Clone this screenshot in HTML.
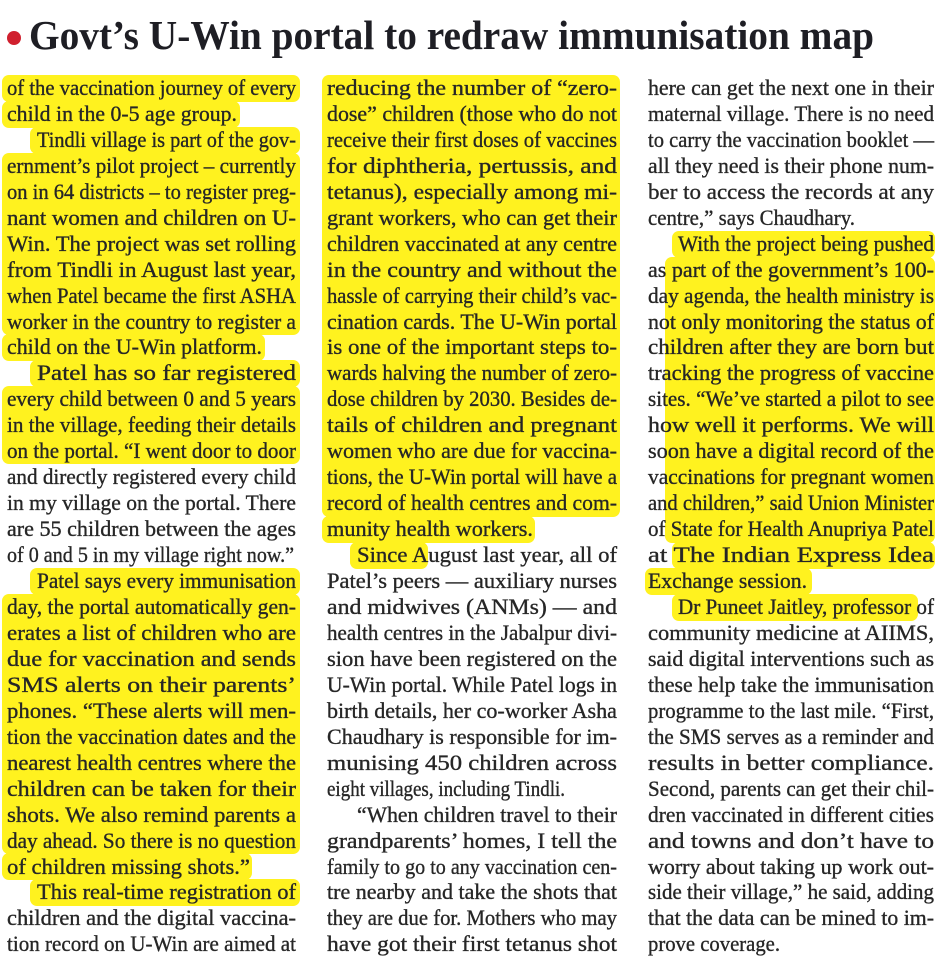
<!DOCTYPE html>
<html><head><meta charset="utf-8"><style>
html,body{margin:0;padding:0;background:#fff;}
svg{display:block}
text{font-family:"Liberation Serif",serif;}
.t{font-size:22.5px;fill:#262626;stroke:#262626;stroke-width:0.35px;}
</style></head><body>
<svg width="940" height="963" viewBox="0 0 940 963" xmlns="http://www.w3.org/2000/svg">
<rect width="940" height="963" fill="#fff"/>
<circle cx="14" cy="38" r="7" fill="#d0202e"/>
<text x="29" y="49" font-size="41" font-weight="bold" fill="#1e1e24" textLength="845" lengthAdjust="spacingAndGlyphs">Govt’s U-Win portal to redraw immunisation map</text>
<g fill="#fff21f">
<rect x="2" y="75" width="298" height="27" rx="7"/>
<rect x="2" y="101" width="238" height="27" rx="7"/>
<rect x="30" y="127" width="270" height="27" rx="7"/>
<rect x="2" y="153" width="298" height="182" rx="7"/>
<rect x="2" y="334" width="263" height="27" rx="7"/>
<rect x="30" y="360" width="270" height="27" rx="7"/>
<rect x="2" y="386" width="298" height="78" rx="7"/>
<rect x="30" y="568" width="270" height="27" rx="7"/>
<rect x="2" y="594" width="298" height="260" rx="7"/>
<rect x="2" y="853" width="250" height="27" rx="7"/>
<rect x="30" y="879" width="270" height="27" rx="7"/>
<rect x="322" y="75" width="298" height="442" rx="7"/>
<rect x="322" y="516" width="213" height="27" rx="7"/>
<rect x="350" y="542" width="78" height="27" rx="7"/>
<rect x="672" y="231" width="263" height="27" rx="7"/>
<rect x="665" y="257" width="270" height="286" rx="7"/>
<rect x="672" y="542" width="263" height="27" rx="7"/>
<rect x="645" y="568" width="167" height="27" rx="7"/>
<rect x="672" y="594" width="246" height="27" rx="7"/>
</g>
<g class="t">
<text x="7" y="95" textLength="289" lengthAdjust="spacingAndGlyphs">of the vaccination journey of every</text>
<text x="7" y="121" textLength="230" lengthAdjust="spacingAndGlyphs">child in the 0-5 age group.</text>
<text x="37" y="147" textLength="259" lengthAdjust="spacingAndGlyphs">Tindli village is part of the gov-</text>
<text x="7" y="173" textLength="289" lengthAdjust="spacingAndGlyphs">ernment’s pilot project – currently</text>
<text x="7" y="199" textLength="289" lengthAdjust="spacingAndGlyphs">on in 64 districts – to register preg-</text>
<text x="7" y="225" textLength="289" lengthAdjust="spacingAndGlyphs">nant women and children on U-</text>
<text x="7" y="251" textLength="289" lengthAdjust="spacingAndGlyphs">Win. The project was set rolling</text>
<text x="7" y="277" textLength="289" lengthAdjust="spacingAndGlyphs">from Tindli in August last year,</text>
<text x="7" y="303" textLength="289" lengthAdjust="spacingAndGlyphs">when Patel became the first ASHA</text>
<text x="7" y="329" textLength="289" lengthAdjust="spacingAndGlyphs">worker in the country to register a</text>
<text x="7" y="354" textLength="255" lengthAdjust="spacingAndGlyphs">child on the U-Win platform.</text>
<text x="37" y="380" textLength="259" lengthAdjust="spacingAndGlyphs">Patel has so far registered</text>
<text x="7" y="406" textLength="289" lengthAdjust="spacingAndGlyphs">every child between 0 and 5 years</text>
<text x="7" y="432" textLength="289" lengthAdjust="spacingAndGlyphs">in the village, feeding their details</text>
<text x="7" y="458" textLength="289" lengthAdjust="spacingAndGlyphs">on the portal. “I went door to door</text>
<text x="7" y="484" textLength="289" lengthAdjust="spacingAndGlyphs">and directly registered every child</text>
<text x="7" y="510" textLength="289" lengthAdjust="spacingAndGlyphs">in my village on the portal. There</text>
<text x="7" y="536" textLength="289" lengthAdjust="spacingAndGlyphs">are 55 children between the ages</text>
<text x="7" y="562" textLength="287" lengthAdjust="spacingAndGlyphs">of 0 and 5 in my village right now.”</text>
<text x="37" y="588" textLength="259" lengthAdjust="spacingAndGlyphs">Patel says every immunisation</text>
<text x="7" y="614" textLength="289" lengthAdjust="spacingAndGlyphs">day, the portal automatically gen-</text>
<text x="7" y="640" textLength="289" lengthAdjust="spacingAndGlyphs">erates a list of children who are</text>
<text x="7" y="666" textLength="289" lengthAdjust="spacingAndGlyphs">due for vaccination and sends</text>
<text x="7" y="692" textLength="289" lengthAdjust="spacingAndGlyphs">SMS alerts on their parents’</text>
<text x="7" y="718" textLength="289" lengthAdjust="spacingAndGlyphs">phones. “These alerts will men-</text>
<text x="7" y="744" textLength="289" lengthAdjust="spacingAndGlyphs">tion the vaccination dates and the</text>
<text x="7" y="770" textLength="289" lengthAdjust="spacingAndGlyphs">nearest health centres where the</text>
<text x="7" y="796" textLength="289" lengthAdjust="spacingAndGlyphs">children can be taken for their</text>
<text x="7" y="822" textLength="289" lengthAdjust="spacingAndGlyphs">shots. We also remind parents a</text>
<text x="7" y="848" textLength="289" lengthAdjust="spacingAndGlyphs">day ahead. So there is no question</text>
<text x="7" y="874" textLength="243" lengthAdjust="spacingAndGlyphs">of children missing shots.”</text>
<text x="37" y="899" textLength="259" lengthAdjust="spacingAndGlyphs">This real-time registration of</text>
<text x="7" y="925" textLength="289" lengthAdjust="spacingAndGlyphs">children and the digital vaccina-</text>
<text x="7" y="951" textLength="289" lengthAdjust="spacingAndGlyphs">tion record on U-Win are aimed at</text>

<text x="327" y="95" textLength="290" lengthAdjust="spacingAndGlyphs">reducing the number of “zero-</text>
<text x="327" y="121" textLength="290" lengthAdjust="spacingAndGlyphs">dose” children (those who do not</text>
<text x="327" y="147" textLength="290" lengthAdjust="spacingAndGlyphs">receive their first doses of vaccines</text>
<text x="327" y="173" textLength="290" lengthAdjust="spacingAndGlyphs">for diphtheria, pertussis, and</text>
<text x="327" y="199" textLength="290" lengthAdjust="spacingAndGlyphs">tetanus), especially among mi-</text>
<text x="327" y="225" textLength="290" lengthAdjust="spacingAndGlyphs">grant workers, who can get their</text>
<text x="327" y="251" textLength="290" lengthAdjust="spacingAndGlyphs">children vaccinated at any centre</text>
<text x="327" y="277" textLength="290" lengthAdjust="spacingAndGlyphs">in the country and without the</text>
<text x="327" y="303" textLength="290" lengthAdjust="spacingAndGlyphs">hassle of carrying their child’s vac-</text>
<text x="327" y="329" textLength="290" lengthAdjust="spacingAndGlyphs">cination cards. The U-Win portal</text>
<text x="327" y="354" textLength="290" lengthAdjust="spacingAndGlyphs">is one of the important steps to-</text>
<text x="327" y="380" textLength="290" lengthAdjust="spacingAndGlyphs">wards halving the number of zero-</text>
<text x="327" y="406" textLength="290" lengthAdjust="spacingAndGlyphs">dose children by 2030. Besides de-</text>
<text x="327" y="432" textLength="290" lengthAdjust="spacingAndGlyphs">tails of children and pregnant</text>
<text x="327" y="458" textLength="290" lengthAdjust="spacingAndGlyphs">women who are due for vaccina-</text>
<text x="327" y="484" textLength="290" lengthAdjust="spacingAndGlyphs">tions, the U-Win portal will have a</text>
<text x="327" y="510" textLength="290" lengthAdjust="spacingAndGlyphs">record of health centres and com-</text>
<text x="327" y="536" textLength="206" lengthAdjust="spacingAndGlyphs">munity health workers.</text>
<text x="357" y="562" textLength="260" lengthAdjust="spacingAndGlyphs">Since August last year, all of</text>
<text x="327" y="588" textLength="290" lengthAdjust="spacingAndGlyphs">Patel’s peers — auxiliary nurses</text>
<text x="327" y="614" textLength="290" lengthAdjust="spacingAndGlyphs">and midwives (ANMs) — and</text>
<text x="327" y="640" textLength="290" lengthAdjust="spacingAndGlyphs">health centres in the Jabalpur divi-</text>
<text x="327" y="666" textLength="290" lengthAdjust="spacingAndGlyphs">sion have been registered on the</text>
<text x="327" y="692" textLength="290" lengthAdjust="spacingAndGlyphs">U-Win portal. While Patel logs in</text>
<text x="327" y="718" textLength="290" lengthAdjust="spacingAndGlyphs">birth details, her co-worker Asha</text>
<text x="327" y="744" textLength="290" lengthAdjust="spacingAndGlyphs">Chaudhary is responsible for im-</text>
<text x="327" y="770" textLength="290" lengthAdjust="spacingAndGlyphs">munising 450 children across</text>
<text x="327" y="796" textLength="238" lengthAdjust="spacingAndGlyphs">eight villages, including Tindli.</text>
<text x="357" y="822" textLength="260" lengthAdjust="spacingAndGlyphs">“When children travel to their</text>
<text x="327" y="848" textLength="290" lengthAdjust="spacingAndGlyphs">grandparents’ homes, I tell the</text>
<text x="327" y="874" textLength="290" lengthAdjust="spacingAndGlyphs">family to go to any vaccination cen-</text>
<text x="327" y="899" textLength="290" lengthAdjust="spacingAndGlyphs">tre nearby and take the shots that</text>
<text x="327" y="925" textLength="290" lengthAdjust="spacingAndGlyphs">they are due for. Mothers who may</text>
<text x="327" y="951" textLength="290" lengthAdjust="spacingAndGlyphs">have got their first tetanus shot</text>

<text x="648" y="95" textLength="286" lengthAdjust="spacingAndGlyphs">here can get the next one in their</text>
<text x="648" y="121" textLength="286" lengthAdjust="spacingAndGlyphs">maternal village. There is no need</text>
<text x="648" y="147" textLength="286" lengthAdjust="spacingAndGlyphs">to carry the vaccination booklet —</text>
<text x="648" y="173" textLength="286" lengthAdjust="spacingAndGlyphs">all they need is their phone num-</text>
<text x="648" y="199" textLength="286" lengthAdjust="spacingAndGlyphs">ber to access the records at any</text>
<text x="648" y="225" textLength="207" lengthAdjust="spacingAndGlyphs">centre,” says Chaudhary.</text>
<text x="678" y="251" textLength="256" lengthAdjust="spacingAndGlyphs">With the project being pushed</text>
<text x="648" y="277" textLength="286" lengthAdjust="spacingAndGlyphs">as part of the government’s 100-</text>
<text x="648" y="303" textLength="286" lengthAdjust="spacingAndGlyphs">day agenda, the health ministry is</text>
<text x="648" y="329" textLength="286" lengthAdjust="spacingAndGlyphs">not only monitoring the status of</text>
<text x="648" y="354" textLength="286" lengthAdjust="spacingAndGlyphs">children after they are born but</text>
<text x="648" y="380" textLength="286" lengthAdjust="spacingAndGlyphs">tracking the progress of vaccine</text>
<text x="648" y="406" textLength="286" lengthAdjust="spacingAndGlyphs">sites. “We’ve started a pilot to see</text>
<text x="648" y="432" textLength="286" lengthAdjust="spacingAndGlyphs">how well it performs. We will</text>
<text x="648" y="458" textLength="286" lengthAdjust="spacingAndGlyphs">soon have a digital record of the</text>
<text x="648" y="484" textLength="286" lengthAdjust="spacingAndGlyphs">vaccinations for pregnant women</text>
<text x="648" y="510" textLength="286" lengthAdjust="spacingAndGlyphs">and children,” said Union Minister</text>
<text x="648" y="536" textLength="286" lengthAdjust="spacingAndGlyphs">of State for Health Anupriya Patel</text>
<text x="648" y="562" textLength="286" lengthAdjust="spacingAndGlyphs">at The Indian Express Idea</text>
<text x="648" y="588" textLength="159" lengthAdjust="spacingAndGlyphs">Exchange session.</text>
<text x="678" y="614" textLength="256" lengthAdjust="spacingAndGlyphs">Dr Puneet Jaitley, professor of</text>
<text x="648" y="640" textLength="286" lengthAdjust="spacingAndGlyphs">community medicine at AIIMS,</text>
<text x="648" y="666" textLength="286" lengthAdjust="spacingAndGlyphs">said digital interventions such as</text>
<text x="648" y="692" textLength="286" lengthAdjust="spacingAndGlyphs">these help take the immunisation</text>
<text x="648" y="718" textLength="286" lengthAdjust="spacingAndGlyphs">programme to the last mile. “First,</text>
<text x="648" y="744" textLength="286" lengthAdjust="spacingAndGlyphs">the SMS serves as a reminder and</text>
<text x="648" y="770" textLength="286" lengthAdjust="spacingAndGlyphs">results in better compliance.</text>
<text x="648" y="796" textLength="286" lengthAdjust="spacingAndGlyphs">Second, parents can get their chil-</text>
<text x="648" y="822" textLength="286" lengthAdjust="spacingAndGlyphs">dren vaccinated in different cities</text>
<text x="648" y="848" textLength="286" lengthAdjust="spacingAndGlyphs">and towns and don’t have to</text>
<text x="648" y="874" textLength="286" lengthAdjust="spacingAndGlyphs">worry about taking up work out-</text>
<text x="648" y="899" textLength="286" lengthAdjust="spacingAndGlyphs">side their village,” he said, adding</text>
<text x="648" y="925" textLength="286" lengthAdjust="spacingAndGlyphs">that the data can be mined to im-</text>
<text x="648" y="951" textLength="132" lengthAdjust="spacingAndGlyphs">prove coverage.</text>
</g>
</svg>
</body></html>
